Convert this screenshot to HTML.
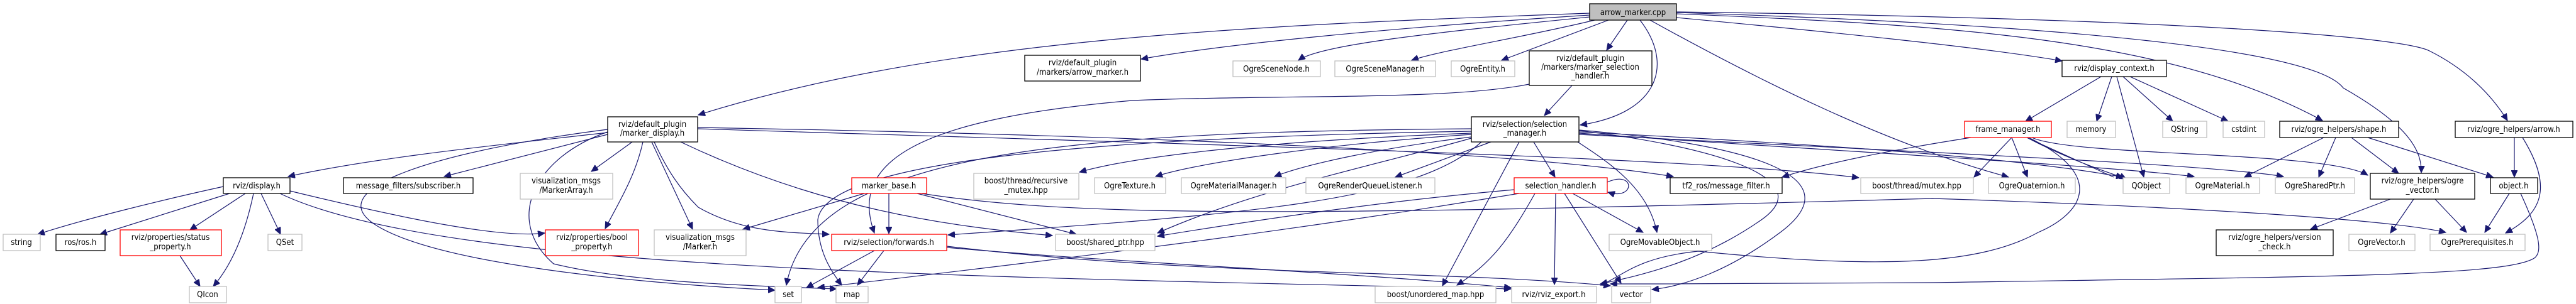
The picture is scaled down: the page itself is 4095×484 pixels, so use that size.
<!DOCTYPE html>
<html><head><meta charset="utf-8"><style>
html,body{margin:0;padding:0;background:#fff;}
svg{display:block;}
text{font-family:"DejaVu Sans Condensed","DejaVu Sans","Liberation Sans",sans-serif;font-stretch:condensed;font-size:13px;fill:#000;text-anchor:middle;}
.b{fill:#fff;stroke:#000;stroke-width:1.3;}
.g{fill:#fff;stroke:#bfbfbf;stroke-width:1.3;}
.r{fill:#fff;stroke:#ff0000;stroke-width:1.3;}
.e{fill:none;stroke:#191970;stroke-width:1.2;marker-end:url(#a);}
</style></head><body>
<svg width="4095" height="484" viewBox="0 0 4095 484" xmlns="http://www.w3.org/2000/svg">
<defs><marker id="a" markerUnits="userSpaceOnUse" markerWidth="12" markerHeight="10" refX="11" refY="5" orient="auto"><path d="M0,0 L11,5 L0,10 z" fill="#191970" stroke="#191970"/></marker></defs>

<!-- edges -->
<g>
<path class="e" d="M2527,21 C2000,40 1500,60 1110,183"/>
<path class="e" d="M2527,24 C2200,45 1950,70 1814,94"/>
<path class="e" d="M2527,27 C2300,50 2100,70 2064,96"/>
<path class="e" d="M2535,32 C2420,60 2290,80 2244,96"/>
<path class="e" d="M2557,32 L2387,96"/>
<path class="e" d="M2587,32 L2554,80"/>
<path class="e" d="M2607,32 C2660,100 2640,180 2512,199"/>
<path class="e" d="M2623,32 C2800,130 3000,230 3193,282"/>
<path class="e" d="M2665,28 C2900,50 3150,75 3278,97"/>
<path class="e" d="M2665,22 C3100,40 3450,60 3692,192"/>
<path class="e" d="M2665,20 C3300,40 3680,80 3725,140 C3830,200 3850,240 3849,275"/>
<path class="e" d="M2665,19 C3500,30 3820,60 3862,81 C3920,110 3960,150 3986,192"/>
<path class="e" d="M2499,136 L2455,184"/>
<path class="e" d="M2431,134 C2300,160 2048,150 1800,160 C1450,190 1350,260 1390,371"/>
<!-- marker_display -->
<path class="e" d="M966,211 C800,230 600,250 458,281"/>
<path class="e" d="M966,214 L706,281"/>
<path class="e" d="M1005,226 L940,273"/>
<path class="e" d="M1022,226 C1010,280 985,320 962,364"/>
<path class="e" d="M1036,226 L1101,365"/>
<path class="e" d="M1040,226 C1060,270 1080,300 1110,330 C1180,370 1250,370 1318,373"/>
<path class="e" d="M1082,226 C1300,330 1500,360 1673,375"/>
<path class="e" d="M966,206 C700,240 500,300 600,360 C700,420 1000,450 1232,462"/>
<path class="e" d="M966,210 C850,250 800,350 880,420 C1000,450 1200,455 1330,460"/>
<path class="e" d="M1109,203 C1800,215 2400,240 2660,281"/>
<path class="e" d="M1109,205 C1900,230 2700,250 2955,283"/>
<!-- display.h -->
<path class="e" d="M355,297 C250,320 130,350 60,373"/>
<path class="e" d="M365,308 L159,373"/>
<path class="e" d="M390,308 L302,366"/>
<path class="e" d="M403,308 C390,370 370,420 339,456"/>
<path class="e" d="M415,308 L446,373"/>
<path class="e" d="M461,304 C650,350 800,380 866,371"/>
<path class="e" d="M445,308 C700,430 1500,440 2402,460"/>
<path class="e" d="M286,407 L318,456"/>
<!-- marker_base -->
<path class="e" d="M1374,308 L1181,365"/>
<path class="e" d="M1413,308 L1413,372"/>
<path class="e" d="M1458,308 L1711,373"/>
<path class="e" d="M1465,308 C1700,345 2048,345 3072,316 C3500,330 3800,350 3888,370"/>
<!-- forwards -->
<path class="e" d="M1390,399 L1282,458"/>
<path class="e" d="M1405,399 L1363,454"/>
<path class="e" d="M1505,394 C1800,420 2100,430 2402,458"/>
<path class="e" d="M1505,392 C1900,440 2300,430 2560,455"/>
<!-- selection_manager -->
<path class="e" d="M2339,205 C1700,210 1290,240 1250,454"/>
<path class="e" d="M2339,209 C1700,220 1310,260 1300,350 C1300,400 1320,430 1338,454"/>
<path class="e" d="M2339,212 C2000,225 1800,250 1716,274"/>
<path class="e" d="M2339,214 C2100,230 1900,260 1837,281"/>
<path class="e" d="M2339,218 C2200,235 2080,260 2026,281"/>
<path class="e" d="M2370,226 L2218,282"/>
<path class="e" d="M2438,226 L2472,282"/>
<path class="e" d="M2415,226 L2293,455"/>
<path class="e" d="M2508,226 C2560,260 2620,300 2634,370"/>
<path class="e" d="M2510,208 C2700,230 2900,280 2800,350 C2700,420 2600,440 2544,452"/>
<path class="e" d="M2510,207 C2780,230 2950,280 2830,370 C2750,430 2680,455 2626,461"/>
<path class="e" d="M2339,220 C2200,260 2000,300 1840,371"/>
<path class="e" d="M2355,226 C2250,320 2000,340 1507,374"/>
<path class="e" d="M2510,210 C2900,230 3200,250 3375,282"/>
<path class="e" d="M2510,212 C2900,240 3300,260 3488,281"/>
<path class="e" d="M2510,214 C3000,240 3500,260 3630,281"/>
<!-- selection_handler -->
<path class="e" d="M2555,290 C2600,270 2600,320 2556,306"/>
<path class="e" d="M2407,302 C2200,320 2000,350 1840,376"/>
<path class="e" d="M2415,308 C2100,360 1800,400 1300,458"/>
<path class="e" d="M2440,308 C2400,380 2370,420 2316,454"/>
<path class="e" d="M2473,308 L2471,453"/>
<path class="e" d="M2487,308 L2577,451"/>
<path class="e" d="M2500,308 L2612,370"/>
<!-- display_context -->
<path class="e" d="M3340,122 L3220,193"/>
<path class="e" d="M3357,122 L3333,193"/>
<path class="e" d="M3365,122 L3408,282"/>
<path class="e" d="M3375,122 L3454,193"/>
<path class="e" d="M3386,122 L3542,193"/>
<!-- frame_manager -->
<path class="e" d="M3222,219 L3360,282 M3222,219 C3300,260 3370,280 3380,285"/>
<path class="e" d="M3198,219 L3138,282"/>
<path class="e" d="M3198,219 L3223,282"/>
<path class="e" d="M3230,219 C3300,250 3700,240 3764,279"/>
<path class="e" d="M3133,219 C3000,240 2900,260 2833,282"/>
<path class="e" d="M3225,219 C3350,280 3310,340 3240,370 C3150,420 3000,430 2700,400 C2600,410 2580,440 2544,454"/>
<!-- shape/arrow/ogre_vector/object -->
<path class="e" d="M3694,219 L3568,282"/>
<path class="e" d="M3713,219 L3686,282"/>
<path class="e" d="M3738,219 L3813,276"/>
<path class="e" d="M3764,219 L3963,282"/>
<path class="e" d="M3997,219 L3997,282"/>
<path class="e" d="M4010,219 C4060,300 4040,340 3983,371"/>
<path class="e" d="M3800,317 L3673,365"/>
<path class="e" d="M3837,317 L3800,371"/>
<path class="e" d="M3871,317 L3921,370"/>
<path class="e" d="M3989,308 L3950,370"/>
<path class="e" d="M4007,308 C4040,380 4040,400 4030,410 C3990,440 3700,440 3072,450 C2800,452 2700,452 2560,452"/>
</g>

<!-- nodes -->
<g>
<rect x="2527" y="6" width="138" height="26" fill="#bfbfbf" stroke="#000" stroke-width="1.3"/><text x="2596" y="24">arrow_marker.cpp</text>

<rect class="b" x="1629" y="88" width="184" height="41"/><text x="1721" y="104">rviz/default_plugin</text><text x="1721" y="119">/markers/arrow_marker.h</text>
<rect class="g" x="1960" y="97" width="139" height="25"/><text x="2029" y="114">OgreSceneNode.h</text>
<rect class="g" x="2122" y="97" width="160" height="25"/><text x="2202" y="114">OgreSceneManager.h</text>
<rect class="g" x="2307" y="97" width="101" height="25"/><text x="2357" y="114">OgreEntity.h</text>
<rect class="b" x="2431" y="81" width="195" height="55"/><text x="2528" y="97">rviz/default_plugin</text><text x="2528" y="111">/markers/marker_selection</text><text x="2528" y="125">_handler.h</text>
<rect class="b" x="3278" y="96" width="166" height="26"/><text x="3361" y="113">rviz/display_context.h</text>

<rect class="b" x="966" y="186" width="143" height="40"/><text x="1037" y="202">rviz/default_plugin</text><text x="1037" y="216">/marker_display.h</text>
<rect class="b" x="2339" y="186" width="171" height="40"/><text x="2424" y="202">rviz/selection/selection</text><text x="2424" y="216">_manager.h</text>
<rect class="r" x="3123" y="193" width="138" height="26"/><text x="3192" y="210">frame_manager.h</text>
<rect class="g" x="3286" y="193" width="77" height="26"/><text x="3324" y="210">memory</text>
<rect class="g" x="3438" y="193" width="70" height="26"/><text x="3473" y="210">QString</text>
<rect class="g" x="3534" y="193" width="66" height="26"/><text x="3567" y="210">cstdint</text>
<rect class="b" x="3624" y="193" width="189" height="26"/><text x="3718" y="210">rviz/ogre_helpers/shape.h</text>
<rect class="b" x="3903" y="193" width="187" height="26"/><text x="3996" y="210">rviz/ogre_helpers/arrow.h</text>

<rect class="b" x="355" y="283" width="106" height="25"/><text x="408" y="300">rviz/display.h</text>
<rect class="b" x="546" y="283" width="206" height="25"/><text x="649" y="300">message_filters/subscriber.h</text>
<rect class="g" x="827" y="276" width="147" height="41"/><text x="900" y="292">visualization_msgs</text><text x="900" y="307">/MarkerArray.h</text>
<rect class="r" x="1354" y="283" width="119" height="25"/><text x="1413" y="300">marker_base.h</text>
<rect class="g" x="1548" y="276" width="167" height="41"/><text x="1631" y="292">boost/thread/recursive</text><text x="1631" y="307">_mutex.hpp</text>
<rect class="g" x="1740" y="283" width="113" height="25"/><text x="1796" y="300">OgreTexture.h</text>
<rect class="g" x="1878" y="283" width="166" height="25"/><text x="1961" y="300">OgreMaterialManager.h</text>
<rect class="g" x="2076" y="283" width="205" height="25"/><text x="2178" y="300">OgreRenderQueueListener.h</text>
<rect class="r" x="2407" y="283" width="148" height="25"/><text x="2481" y="300">selection_handler.h</text>
<rect class="b" x="2655" y="283" width="178" height="25"/><text x="2744" y="300">tf2_ros/message_filter.h</text>
<rect class="g" x="2958" y="283" width="179" height="25"/><text x="3047" y="300">boost/thread/mutex.hpp</text>
<rect class="g" x="3161" y="283" width="138" height="25"/><text x="3230" y="300">OgreQuaternion.h</text>
<rect class="g" x="3375" y="283" width="74" height="25"/><text x="3412" y="300">QObject</text>
<rect class="g" x="3475" y="283" width="117" height="25"/><text x="3533" y="300">OgreMaterial.h</text>
<rect class="g" x="3617" y="283" width="126" height="25"/><text x="3680" y="300">OgreSharedPtr.h</text>
<rect class="b" x="3768" y="276" width="166" height="41"/><text x="3851" y="292">rviz/ogre_helpers/ogre</text><text x="3851" y="307">_vector.h</text>
<rect class="b" x="3959" y="283" width="75" height="25"/><text x="3996" y="300">object.h</text>

<rect class="g" x="5" y="373" width="59" height="26"/><text x="34" y="390">string</text>
<rect class="b" x="89" y="373" width="78" height="26"/><text x="128" y="390">ros/ros.h</text>
<rect class="r" x="191" y="366" width="161" height="41"/><text x="271" y="382">rviz/properties/status</text><text x="271" y="397">_property.h</text>
<rect class="g" x="426" y="373" width="54" height="26"/><text x="453" y="390">QSet</text>
<rect class="r" x="867" y="366" width="148" height="41"/><text x="941" y="382">rviz/properties/bool</text><text x="941" y="397">_property.h</text>
<rect class="g" x="1040" y="366" width="146" height="41"/><text x="1113" y="382">visualization_msgs</text><text x="1113" y="397">/Marker.h</text>
<rect class="r" x="1322" y="373" width="183" height="26"/><text x="1413" y="390">rviz/selection/forwards.h</text>
<rect class="g" x="1678" y="373" width="158" height="26"/><text x="1757" y="390">boost/shared_ptr.hpp</text>
<rect class="g" x="2558" y="373" width="163" height="26"/><text x="2639" y="390">OgreMovableObject.h</text>
<rect class="b" x="3523" y="366" width="186" height="41"/><text x="3616" y="382">rviz/ogre_helpers/version</text><text x="3616" y="397">_check.h</text>
<rect class="g" x="3734" y="373" width="105" height="26"/><text x="3786" y="390">OgreVector.h</text>
<rect class="g" x="3863" y="373" width="151" height="26"/><text x="3938" y="390">OgrePrerequisites.h</text>

<rect class="g" x="301" y="456" width="59" height="26"/><text x="330" y="473">QIcon</text>
<rect class="g" x="1232" y="456" width="42" height="26"/><text x="1253" y="473">set</text>
<rect class="g" x="1329" y="456" width="51" height="26"/><text x="1354" y="473">map</text>
<rect class="g" x="2186" y="456" width="192" height="26"/><text x="2282" y="473">boost/unordered_map.hpp</text>
<rect class="g" x="2403" y="456" width="135" height="26"/><text x="2470" y="473">rviz/rviz_export.h</text>
<rect class="g" x="2562" y="456" width="62" height="26"/><text x="2593" y="473">vector</text>
</g>
</svg>
</body></html>
